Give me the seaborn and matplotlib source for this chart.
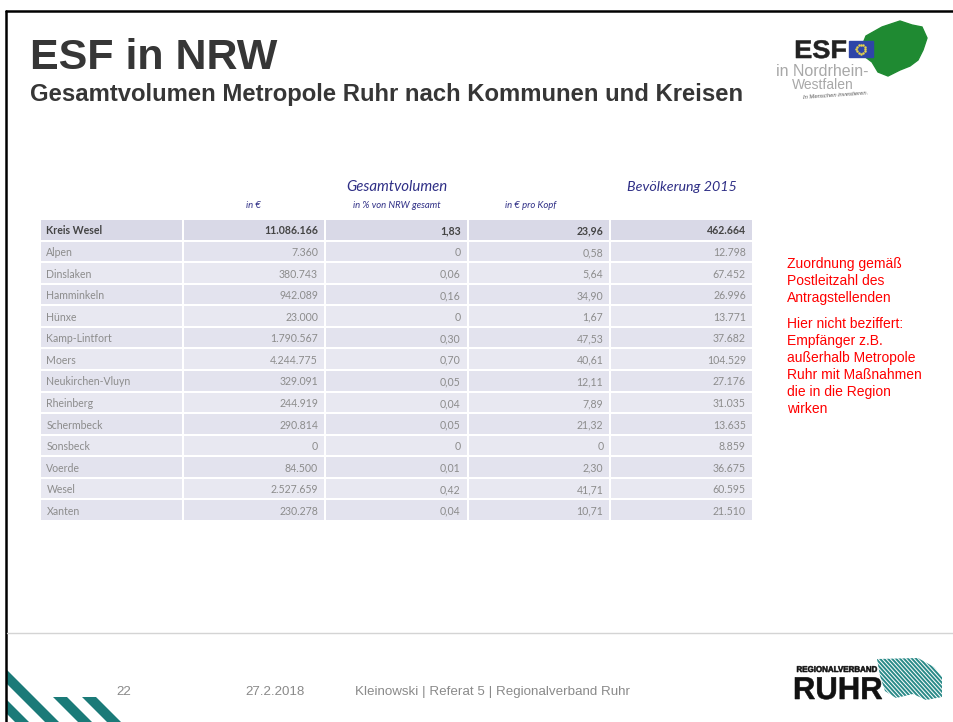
#!/usr/bin/env python3

import numpy as np
import matplotlib
matplotlib.use("Agg")
import matplotlib.pyplot as plt
from matplotlib.patches import Polygon, Rectangle, PathPatch
from matplotlib.textpath import TextPath
from matplotlib.font_manager import FontProperties
from matplotlib.transforms import Affine2D
import seaborn as sns

# table data (Kreis Wesel and its municipalities)
kommunen = ["Kreis Wesel", "Alpen", "Dinslaken", "Hamminkeln", "Hünxe",
            "Kamp-Lintfort", "Moers", "Neukirchen-Vluyn", "Rheinberg",
            "Schermbeck", "Sonsbeck", "Voerde", "Wesel", "Xanten"]
volumen_euro = ["11.086.166", "7.360", "380.743", "942.089", "23.000",
                "1.790.567", "4.244.775", "329.091", "244.919", "290.814",
                "0", "84.500", "2.527.659", "230.278"]
anteil_nrw = ["1,83", "0", "0,06", "0,16", "0", "0,30", "0,70", "0,05",
              "0,04", "0,05", "0", "0,01", "0,42", "0,04"]
euro_pro_kopf = ["23,96", "0,58", "5,64", "34,90", "1,67", "47,53", "40,61",
                 "12,11", "7,89", "21,32", "0", "2,30", "41,71", "10,71"]
bevoelkerung = ["462.664", "12.798", "67.452", "26.996", "13.771", "37.682",
                "104.529", "27.176", "31.035", "13.635", "8.859", "36.675",
                "60.595", "21.510"]

title = "ESF in NRW"
subtitle = "Gesamtvolumen Metropole Ruhr nach Kommunen und Kreisen"
note_1 = ["Zuordnung gemäß", "Postleitzahl des", "Antragstellenden"]
note_2 = ["Hier nicht beziffert:", "Empfänger z.B.", "außerhalb Metropole",
          "Ruhr mit Maßnahmen", "die in die Region", "wirken"]
footer = ["22", "27.2.2018", "Kleinowski | Referat 5 | Regionalverband Ruhr"]

W, H = 954, 722
sns.set_style("white")
plt.rcParams["font.family"] = ["Liberation Sans", "DejaVu Sans"]

fig = plt.figure(figsize=(W / 100, H / 100), dpi=100)
bg = fig.add_axes([0, 0, 1, 1])
bg.set_xlim(0, W)
bg.set_ylim(H, 0)
bg.axis("off")


def squeezed_text(ax, x, y, s, width, height, color, weight="bold"):
    # logo lettering stretched into a box (baseline at y, pixel coords)
    tp = TextPath((0, 0), s, size=1, prop=FontProperties(family="Liberation Sans", weight=weight))
    ext = tp.get_extents()
    sx = width / ext.width
    sy = height / ext.height
    tr = Affine2D().translate(-ext.x0, 0).scale(sx, -sy).translate(x, y)
    ax.add_patch(PathPatch(tr.transform_path(tp), facecolor=color,
                           edgecolor=color, lw=0.4))


# slide frame
bg.plot([6, 6], [11, H], color="black", lw=1.8)
bg.plot([6, W], [11, 11], color="black", lw=1.8)
bg.plot([7, W], [633, 633], color="#d4d4d4", lw=1)

# heading
bg.text(30, 69, title, fontsize=31, fontweight="bold", color="#363636")
bg.text(30, 101, subtitle, fontsize=17.2, fontweight="bold", color="#363636")

# ESF logo (rough)
nrw = [(866, 36), (882, 27), (900, 21), (912, 25), (922, 27), (927, 38),
       (923, 50), (918, 60), (910, 66), (900, 70), (888, 76), (878, 72),
       (872, 62), (864, 56), (862, 46)]
bg.add_patch(Polygon(nrw, closed=True, color="#1f8a32", zorder=2))
bg.add_patch(Rectangle((849, 41), 24, 16, color="#2e45a8", zorder=3))
ang = np.linspace(0, 2 * np.pi, 12, endpoint=False)
bg.scatter(861 + 4.5 * np.cos(ang), 49 + 4.5 * np.sin(ang), s=0.6,
           color="#e8d44a", zorder=4)
squeezed_text(bg, 796, 58, "ESF", 50, 18, "#222222")
bg.text(776, 76, "in Nordrhein-", fontsize=11.5, color="#a8a8a8", zorder=5)
bg.text(792, 89, "Westfalen", fontsize=10, color="#a8a8a8")
bg.text(803, 99, "In Menschen investieren.", fontsize=4.2, style="italic",
        color="#555555", rotation=4)

# red notes
for i, line in enumerate(note_1):
    bg.text(787, 268 + i * 17, line, fontsize=10, color="#ff0000")
for i, line in enumerate(note_2):
    bg.text(787, 328 + i * 17, line, fontsize=10, color="#ff0000")

# table
tab_left, tab_top, tab_w, tab_h = 40, 219, 713, 302
tax = fig.add_axes([tab_left / W, 1 - (tab_top + tab_h) / H, tab_w / W, tab_h / H])
n_rows = len(kommunen)
shade = np.array([[2] * 5] + [[i % 2] * 5 for i in range(1, n_rows)])
cmap = matplotlib.colors.ListedColormap(["#e8e8f1", "#e3e3ee", "#d9d9e7"])
sns.heatmap(shade, ax=tax, cmap=cmap, vmin=-0.5, vmax=2.5, cbar=False,
            linewidths=1.3, linecolor="white",
            xticklabels=False, yticklabels=False)
tfont = ["Lato", "DejaVu Sans"]
columns = [volumen_euro, anteil_nrw, euro_pro_kopf, bevoelkerung]
for i in range(n_rows):
    bold = i == 0
    col = "#444444" if bold else "#8c8c8c"
    tax.text(0.045, i + 0.55, kommunen[i], ha="left", va="center", fontsize=7.6,
             family=tfont, fontweight="bold" if bold else "normal", color=col)
    for j, vals in enumerate(columns):
        tax.text(j + 1.95, i + 0.55, vals[i], ha="right", va="center",
                 fontsize=7.6, family=tfont,
                 fontweight="bold" if bold else "normal", color=col)

# column headers
col_w = tab_w / 5
hcol = "#2f2f86"
bg.text(tab_left + 2.5 * col_w, 191, "Gesamtvolumen", ha="center", fontsize=10.8,
        style="italic", family=tfont, color=hcol)
bg.text(tab_left + 4.5 * col_w, 191, "Bevölkerung 2015", ha="center", fontsize=10.3,
        style="italic", family=tfont, color=hcol)
bg.text(tab_left + 1.5 * col_w, 208, "in €", ha="center", fontsize=6.8,
        style="italic", family=tfont, color=hcol)
bg.text(tab_left + 2.5 * col_w, 208, "in % von NRW gesamt", ha="center",
        fontsize=6.8, style="italic", family=tfont, color=hcol)
bg.text(505, 208, "in € pro Kopf", ha="left", fontsize=6.8,
        style="italic", family=tfont, color=hcol)

# footer
fcol = "#8a8a8a"
bg.text(124, 695, footer[0], fontsize=9.6, color=fcol, ha="center")
bg.text(245, 695, footer[1], fontsize=9.6, color=fcol)
bg.text(355, 695, footer[2], fontsize=9.6, color=fcol)

# teal stripes bottom left
teal = "#1b7a78"
for poly in [[(7, 670), (59, 722), (45, 722), (7, 684)],
             [(7, 700), (29, 722), (15, 722), (7, 714)],
             [(53, 697), (67, 697), (92, 722), (78, 722)],
             [(82, 697), (96, 697), (121, 722), (107, 722)]]:
    bg.add_patch(Polygon(poly, closed=True, color=teal, lw=0))

# RUHR logo
squeezed_text(bg, 797, 672, "REGIONALVERBAND", 80, 6, "#111111")
squeezed_text(bg, 795, 699, "RUHR", 87, 22, "#111111", weight="heavy")
clip = Polygon([(877, 659), (918, 658), (934, 667), (942, 677), (942, 697),
                (926, 700), (913, 694), (896, 698), (885, 691), (880, 676)],
               closed=True, facecolor="none", edgecolor="none")
bg.add_patch(clip)
for x0 in range(830, 950, 4):
    ln, = bg.plot([x0, x0 + 48], [652, 705], color="#2a8a88", lw=1.4)
    ln.set_clip_path(clip)

fig.savefig("out.png", dpi=100)
